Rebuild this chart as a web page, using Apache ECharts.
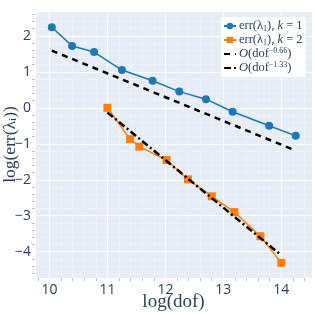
<!DOCTYPE html>
<html><head><meta charset="utf-8">
<script src="https://cdn.jsdelivr.net/npm/echarts@6/dist/echarts.min.js"></script>
<style>html,body{margin:0;padding:0;background:#fff}#c{width:315px;height:315px}</style>
</head><body><div id="c"></div>
<script>
const k1X = [10.04, 10.39, 10.77, 11.25, 11.78, 12.24, 12.70, 13.16, 13.79, 14.25];
const k1Y = [2.24, 1.72, 1.55, 1.05, 0.75, 0.45, 0.24, -0.11, -0.50, -0.78];
const k2X = [11.00, 11.39, 11.55, 12.02, 12.39, 12.80, 13.19, 13.64, 14.00];
const k2Y = [0.00, -0.87, -1.08, -1.45, -1.99, -2.46, -2.90, -3.57, -4.31];
const ref1X = [10.04, 14.25];
const ref1Y = [1.59, -1.19];
const ref2X = [11.00, 13.98];
const ref2Y = [-0.13, -4.07];
const seriesNames = ['k1', 'k2', 'r1', 'r2'];

const pairs = (xs, ys) => xs.map((x, i) => [x, ys[i]]);
const serif = 'Liberation Serif';
const tickColor = '#2a3f5f';
const fmt = v => (Math.abs(v - Math.round(v)) < 1e-6 ? String(Math.round(v)).replace('-', '\u2212') : '');
const hidden = {color: 'rgba(0,0,0,0)', borderWidth: 0};

const chart = echarts.init(document.getElementById('c'), null, {renderer: 'canvas'});
chart.setOption({
  animation: false,
  backgroundColor: '#fff',
  grid: {left: 35, top: 11, right: 3, bottom: 37, show: true, backgroundColor: '#E5ECF6', borderWidth: 0,
         outerBoundsMode: 'none', containLabel: false},
  xAxis: {
    type: 'value', min: 9.75, max: 14.53, minInterval: 1, maxInterval: 1,
    axisLine: {show: false, onZero: false}, axisTick: {show: false},
    minorTick: {show: true, splitNumber: 5, length: 3, lineStyle: {color: '#b8c2d0', width: 1}},
    splitLine: {show: true, lineStyle: {color: '#ffffff', width: 1}},
    minorSplitLine: {show: true, lineStyle: {color: '#EDF1F8', width: 1}},
    axisLabel: {formatter: fmt, color: tickColor, fontSize: 14, fontFamily: 'Open Sans', margin: 5, showMinLabel: false, showMaxLabel: false},
    name: 'log(dof)', nameLocation: 'middle', nameGap: 15, nameMoveOverlap: false,
    nameTextStyle: {fontFamily: serif, fontSize: 19, color: tickColor}
  },
  yAxis: {
    type: 'value', min: -4.73, max: 2.69, minInterval: 1, maxInterval: 1,
    axisLine: {show: false, onZero: false}, axisTick: {show: false},
    minorTick: {show: true, splitNumber: 5, length: 3, lineStyle: {color: '#b8c2d0', width: 1}},
    splitLine: {show: true, lineStyle: {color: '#ffffff', width: 1}},
    minorSplitLine: {show: true, lineStyle: {color: '#EDF1F8', width: 1}},
    axisLabel: {formatter: fmt, color: tickColor, fontSize: 14, fontFamily: 'Open Sans', margin: 4, showMinLabel: false, showMaxLabel: false},
    name: '{n|log(err(λ}{s|i}{n|))}', nameLocation: 'middle', nameGap: 16, nameRotate: 90, nameMoveOverlap: false,
    nameTextStyle: {rich: {
      n: {fontFamily: serif, fontSize: 17.5, color: tickColor},
      s: {fontFamily: serif, fontSize: 11, color: tickColor, verticalAlign: 'bottom', padding: [7, 0, 0, 0]}
    }}
  },
  legend: {
    left: 221, top: 17, orient: 'vertical', backgroundColor: '#ffffff', padding: [2, 3, 2, 2],
    itemGap: 0, itemWidth: 12, itemHeight: 8,
    data: [
      {name: 'k1'}, {name: 'k2'},
      {name: 'r1', itemStyle: hidden},
      {name: 'r2', itemStyle: hidden}
    ],
    formatter: function (n) {
      if (n === 'k1') return '{n|err(λ}{s|1}{n|), }{i|k}{n| = 1}';
      if (n === 'k2') return '{n|err(λ}{s|1}{n|), }{i|k}{n| = 2}';
      if (n === 'r1') return '{i|O}{n|(dof}{p|−0.66}{n|)}';
      return '{i|O}{n|(dof}{p|−1.33}{n|)}';
    },
    textStyle: {padding: [0, 0, 0, -2], lineHeight: 14, rich: {
      n: {fontFamily: serif, fontSize: 12.5, color: tickColor, lineHeight: 14},
      i: {fontFamily: serif, fontSize: 12.5, fontStyle: 'italic', color: tickColor, lineHeight: 14},
      s: {fontFamily: serif, fontSize: 8, color: tickColor, verticalAlign: 'bottom', lineHeight: 14, padding: [3, 0, 0, 0]},
      p: {fontFamily: serif, fontSize: 8, color: tickColor, verticalAlign: 'top', lineHeight: 14, padding: [0, 0, 3, 0]}
    }}
  },
  series: [
    {name: 'k1', type: 'line', data: pairs(k1X, k1Y), symbol: 'circle', symbolSize: 8,
     itemStyle: {color: '#1f77b4'}, lineStyle: {color: '#1f77b4', width: 1.5}, z: 3},
    {name: 'k2', type: 'line', data: pairs(k2X, k2Y), symbol: 'rect', symbolSize: 8,
     itemStyle: {color: '#ff7f0e'}, lineStyle: {color: '#ff7f0e', width: 1.5}, z: 3},
    {name: 'r1', type: 'line', data: pairs(ref1X, ref1Y), symbol: 'none',
     itemStyle: {color: '#000'}, lineStyle: {color: '#000', width: 2.5, type: [6, 5]}, z: 4},
    {name: 'r2', type: 'line', data: pairs(ref2X, ref2Y), symbol: 'none',
     itemStyle: {color: '#000'}, lineStyle: {color: '#000', width: 2.5, type: [7, 3, 2, 3]}, z: 4}
  ]
});
</script></body></html>
